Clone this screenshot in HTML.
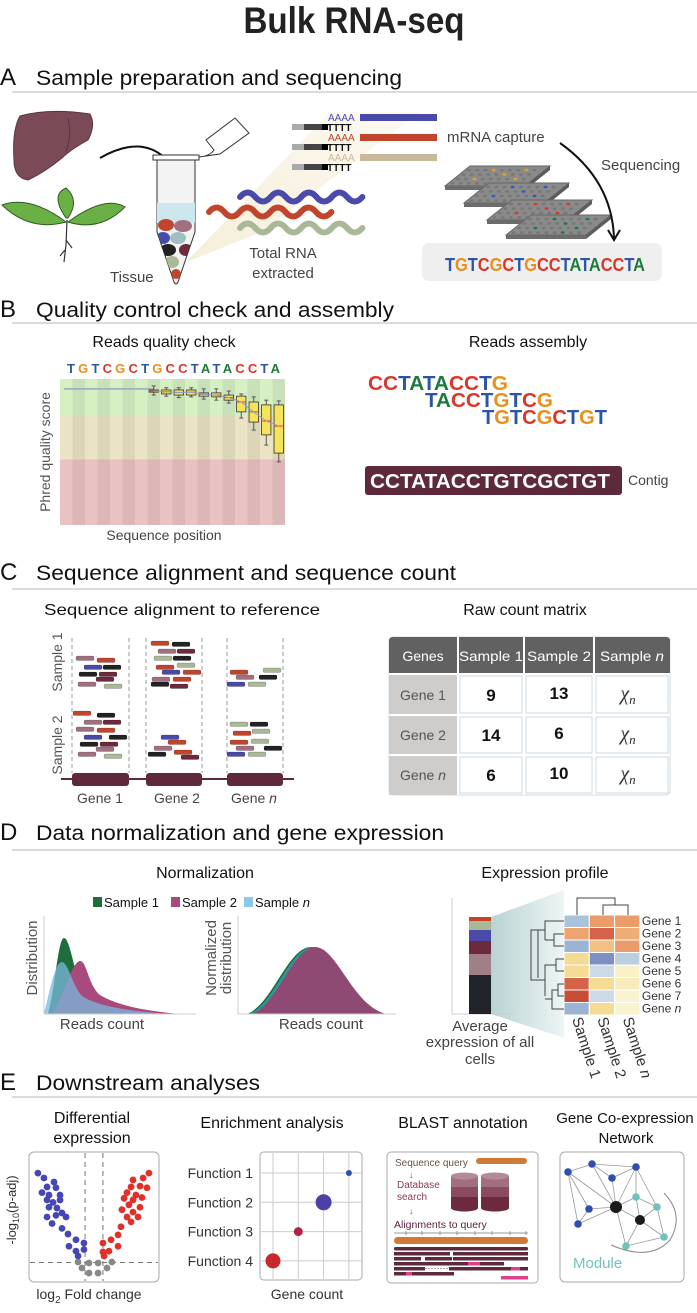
<!DOCTYPE html>
<html><head><meta charset="utf-8"><style>
html,body{margin:0;padding:0;background:#fff}
svg{display:block;font-family:"Liberation Sans",sans-serif}
</style></head><body>
<svg id="fig" width="697" height="1313" viewBox="0 0 697 1313" xmlns="http://www.w3.org/2000/svg">
<defs>
<linearGradient id="tealg" x1="0" x2="1" y1="0" y2="0"><stop offset="0" stop-color="#b9d3d3"/><stop offset="1" stop-color="#eef5f5"/></linearGradient>
<linearGradient id="beam" x1="0" x2="1" y1="1" y2="0"><stop offset="0" stop-color="#f3ead0"/><stop offset="1" stop-color="#fbf8ee"/></linearGradient>
<clipPath id="tubeclip"><path d="M157,160 L195,160 L195,232 L178,282 Q176,286 174,282 L157,232 Z"/></clipPath>
</defs>

<text x="354" y="33" text-anchor="middle" font-size="37" font-weight="bold" fill="#222" textLength="221" lengthAdjust="spacingAndGlyphs">Bulk RNA-seq</text>

<!-- ===== A ===== -->
<g>
<text x="0" y="85" font-size="24" fill="#111">A</text>
<text x="36" y="85" font-size="21" fill="#111" textLength="366" lengthAdjust="spacingAndGlyphs">Sample preparation and sequencing</text>
<line x1="12" y1="92" x2="697" y2="92" stroke="#cfcfcf" stroke-width="1.5"/>
<path d="M20,116 Q50,108 90,114 Q96,125 88,140 Q70,150 62,158 Q45,172 28,180 Q14,178 14,160 Q12,130 20,116 Z" fill="#7b4a57" stroke="#5a3440" stroke-width="1"/>
<path d="M68,118 Q72,135 66,152" stroke="#5a3440" fill="none"/>
<g>
<path d="M66,222 Q30,195 2,205 Q30,232 66,222 Z" fill="#6bb046" stroke="#2f5e22"/>
<path d="M68,222 Q105,195 125,207 Q100,232 68,222 Z" fill="#6bb046" stroke="#2f5e22"/>
<path d="M66,218 Q50,195 66,188 Q80,200 68,218 Z" fill="#6bb046" stroke="#2f5e22"/>
<path d="M67,220 L66,245 L64,262 M66,240 L72,248 M65,250 L60,256" stroke="#333" stroke-width="1.2" fill="none"/>
</g>
<path d="M100,158 Q140,135 165,158 Q176,170 176,178" stroke="#111" stroke-width="2" fill="none"/>
<path d="M171,172 L176,180 L180,171" stroke="#111" stroke-width="2" fill="none"/>
<polygon points="186,262 330,112 420,112 262,232" fill="url(#beam)" opacity="0.8"/>
<g>
<path d="M157,160 L195,160 L195,232 L178,282 Q176,286 174,282 L157,232 Z" fill="#f3f3f3" stroke="#333"/>
<g clip-path="url(#tubeclip)">
<rect x="150" y="203" width="50" height="20" fill="#cde7ee"/>
<ellipse cx="166" cy="225" rx="8" ry="6" fill="#c0452c"/><ellipse cx="183" cy="226" rx="9" ry="6" fill="#a07080"/>
<ellipse cx="163" cy="238" rx="7" ry="6" fill="#4a4aab"/><ellipse cx="178" cy="238" rx="8" ry="6" fill="#9fc0c0"/>
<ellipse cx="168" cy="250" rx="8" ry="6" fill="#222"/><ellipse cx="186" cy="250" rx="7" ry="6" fill="#6b2a3d"/>
<ellipse cx="172" cy="262" rx="7" ry="6" fill="#a9b896"/><ellipse cx="176" cy="274" rx="5" ry="5" fill="#c0452c"/>
</g>
<rect x="153" y="155" width="46" height="5" fill="#fff" stroke="#333"/>
<path d="M199,157 Q210,156 214,150 L206,140 L235,118 L249,133 L220,154 Z" fill="#fff" stroke="#333"/>
</g>
<text x="110" y="282" font-size="15" fill="#444">Tissue</text>
<g>
<rect x="360" y="114" width="77" height="7" fill="#4a4aab"/><rect x="360" y="134" width="77" height="7" fill="#c0452c"/><rect x="360" y="154" width="77" height="7" fill="#c9b99a"/>
<text x="328" y="121" font-size="10" fill="#4a4aab">AAAA</text><text x="328" y="141" font-size="10" fill="#c0452c">AAAA</text><text x="328" y="161" font-size="10" fill="#c9b99a">AAAA</text>
<g font-size="10" font-weight="bold" fill="#111"><text x="327" y="131">TTTT</text><text x="327" y="151">TTTT</text><text x="327" y="171">TTTT</text></g>
<rect x="292" y="124" width="12" height="6" fill="#aaa"/><rect x="304" y="124" width="18" height="6" fill="#444"/><rect x="322" y="124" width="6" height="6" fill="#000"/>
<rect x="292" y="144" width="12" height="6" fill="#aaa"/><rect x="304" y="144" width="18" height="6" fill="#444"/><rect x="322" y="144" width="6" height="6" fill="#000"/>
<rect x="292" y="164" width="12" height="6" fill="#aaa"/><rect x="304" y="164" width="18" height="6" fill="#444"/><rect x="322" y="164" width="6" height="6" fill="#000"/>
</g>
<g id="waves"></g>
<text x="283" y="258" text-anchor="middle" font-size="15" fill="#444">Total RNA</text>
<text x="283" y="278" text-anchor="middle" font-size="15" fill="#444">extracted</text>
<text x="447" y="142" font-size="15" fill="#444">mRNA capture</text>
<text x="601" y="170" font-size="15" fill="#444">Sequencing</text>
<g id="plates"></g>
<path d="M560,143 Q612,180 614,238" stroke="#111" stroke-width="2" fill="none"/>
<path d="M608,230 L614,240 L620,230" stroke="#111" stroke-width="2" fill="none"/>
<rect x="422" y="243" width="240" height="38" rx="7" fill="#efefef"/>
<text id="seqA" x="445" y="271" font-size="18" font-weight="bold" textLength="200" lengthAdjust="spacingAndGlyphs"></text>
</g>

<!-- ===== B ===== -->
<g>
<text x="0" y="317" font-size="24" fill="#111">B</text>
<text x="36" y="317" font-size="21" fill="#111" textLength="358" lengthAdjust="spacingAndGlyphs">Quality control check and assembly</text>
<line x1="12" y1="323" x2="697" y2="323" stroke="#cfcfcf" stroke-width="1.5"/>
<text x="164" y="347" text-anchor="middle" font-size="16" fill="#111">Reads quality check</text>
<text x="528" y="347" text-anchor="middle" font-size="16" fill="#111">Reads assembly</text>
<text id="seqB" x="67" y="373" font-size="13" font-weight="bold" textLength="213" lengthAdjust="spacing"></text>
<g id="qc"></g>
<text transform="translate(50,452) rotate(-90)" text-anchor="middle" font-size="14" fill="#555">Phred quality score</text>
<text x="164" y="540" text-anchor="middle" font-size="14" fill="#444">Sequence position</text>
<g font-weight="bold" font-size="20">
<text id="as1" x="368" y="390" textLength="140" lengthAdjust="spacingAndGlyphs"></text>
<text id="as2" x="425" y="407" textLength="128" lengthAdjust="spacingAndGlyphs"></text>
<text id="as3" x="482" y="424" textLength="125" lengthAdjust="spacingAndGlyphs"></text>
</g>
<rect x="365" y="466" width="257" height="29" rx="3" fill="#5e2a3b"/>
<text x="370" y="488" font-size="20" font-weight="bold" fill="#fff" textLength="240" lengthAdjust="spacingAndGlyphs">CCTATACCTGTCGCTGT</text>
<text x="628" y="485" font-size="14" fill="#444">Contig</text>
</g>

<!-- ===== C ===== -->
<g>
<text x="0" y="580" font-size="24" fill="#111">C</text>
<text x="36" y="580" font-size="21" fill="#111" textLength="420" lengthAdjust="spacingAndGlyphs">Sequence alignment and sequence count</text>
<line x1="12" y1="589" x2="697" y2="589" stroke="#cfcfcf" stroke-width="1.5"/>
<text x="44" y="615" font-size="16" fill="#111" textLength="276" lengthAdjust="spacingAndGlyphs">Sequence alignment to reference</text>
<text x="525" y="615" text-anchor="middle" font-size="16" fill="#111">Raw count matrix</text>
<g stroke="#999" stroke-dasharray="4,3" stroke-width="1">
<line x1="72" y1="638" x2="72" y2="773"/><line x1="129" y1="638" x2="129" y2="773"/>
<line x1="146" y1="638" x2="146" y2="773"/><line x1="202" y1="638" x2="202" y2="773"/>
<line x1="227" y1="638" x2="227" y2="773"/><line x1="283" y1="638" x2="283" y2="773"/>
</g>
<g id="reads"></g>
<line x1="61" y1="779" x2="294" y2="779" stroke="#5e2a3b" stroke-width="2"/>
<rect x="72" y="773" width="57" height="13" rx="3" fill="#5e2a3b"/>
<rect x="146" y="773" width="56" height="13" rx="3" fill="#5e2a3b"/>
<rect x="227" y="773" width="56" height="13" rx="3" fill="#5e2a3b"/>
<g font-size="14" fill="#444" text-anchor="middle">
<text x="100" y="803">Gene 1</text><text x="177" y="803">Gene 2</text><text x="254" y="803">Gene <tspan font-style="italic">n</tspan></text>
</g>
<text transform="translate(62,662) rotate(-90)" text-anchor="middle" font-size="14" fill="#555">Sample 1</text>
<text transform="translate(62,745) rotate(-90)" text-anchor="middle" font-size="14" fill="#555">Sample 2</text>
<g>
<rect x="389" y="637" width="281" height="158" rx="4" fill="#fff" stroke="#cdd8df"/>
<path d="M389,674 L389,641 Q389,637 393,637 L666,637 Q670,637 670,641 L670,674 Z" fill="#616161"/>
<rect x="389" y="674" width="69" height="121" fill="#cfcccc"/>
<g stroke="#fff" stroke-width="2"><line x1="458" y1="637" x2="458" y2="795"/><line x1="524" y1="637" x2="524" y2="795"/><line x1="594" y1="637" x2="594" y2="795"/><line x1="389" y1="674" x2="670" y2="674"/><line x1="389" y1="715" x2="670" y2="715"/><line x1="389" y1="755" x2="670" y2="755"/></g>
<g stroke="#cdd8df" fill="none"><rect x="460" y="676" width="62" height="37"/><rect x="526" y="676" width="66" height="37"/><rect x="596" y="676" width="72" height="37"/><rect x="460" y="717" width="62" height="36"/><rect x="526" y="717" width="66" height="36"/><rect x="596" y="717" width="72" height="36"/><rect x="460" y="757" width="62" height="36"/><rect x="526" y="757" width="66" height="36"/><rect x="596" y="757" width="72" height="36"/></g>
<g fill="#fff" font-size="14" text-anchor="middle"><text x="423" y="661">Genes</text><text x="491" y="661" textLength="64" lengthAdjust="spacingAndGlyphs">Sample 1</text><text x="559" y="661" textLength="64" lengthAdjust="spacingAndGlyphs">Sample 2</text><text x="632" y="661" textLength="64" lengthAdjust="spacingAndGlyphs">Sample <tspan font-style="italic">n</tspan></text></g>
<g fill="#555" font-size="14" text-anchor="middle"><text x="423" y="700">Gene 1</text><text x="423" y="740">Gene 2</text><text x="423" y="780">Gene <tspan font-style="italic">n</tspan></text></g>
<g fill="#111" font-size="17" font-weight="bold" text-anchor="middle"><text x="491" y="701">9</text><text x="559" y="699">13</text><text x="491" y="741">14</text><text x="559" y="739">6</text><text x="491" y="781">6</text><text x="559" y="779">10</text></g>
<g fill="#333" font-size="20" font-style="italic" font-family="Liberation Serif,serif" text-anchor="middle"><text x="628" y="700">χ<tspan font-size="13" dy="4">n</tspan></text><text x="628" y="740">χ<tspan font-size="13" dy="4">n</tspan></text><text x="628" y="780">χ<tspan font-size="13" dy="4">n</tspan></text></g>
</g>
</g>

<!-- ===== D ===== -->
<g>
<text x="0" y="840" font-size="24" fill="#111">D</text>
<text x="36" y="840" font-size="21" fill="#111" textLength="408" lengthAdjust="spacingAndGlyphs">Data normalization and gene expression</text>
<line x1="12" y1="850" x2="697" y2="850" stroke="#cfcfcf" stroke-width="1.5"/>
<text x="205" y="878" text-anchor="middle" font-size="16" fill="#111">Normalization</text>
<text x="545" y="878" text-anchor="middle" font-size="16" fill="#111">Expression profile</text>
<g font-size="13" fill="#111">
<rect x="93" y="897" width="9" height="10" fill="#1e6e3c"/><text x="104" y="907">Sample 1</text>
<rect x="171" y="897" width="9" height="10" fill="#a84a7c"/><text x="182" y="907">Sample 2</text>
<rect x="244" y="897" width="9" height="10" fill="#8ec8e8"/><text x="255" y="907">Sample <tspan font-style="italic">n</tspan></text>
</g>
<g>
<path d="M48,1014 C55,990 58,938 64,938 C70,938 74,972 82,990 C92,1005 110,1010 140,1013 L140,1014 Z" fill="#1e6e3c"/>
<path d="M52,1014 C62,1000 72,961 80,961 C87,961 88,985 100,995 C120,1007 150,1011 180,1014 Z" fill="#a84a7c"/>
<path d="M44,1014 C50,990 55,962 62,962 C68,962 72,985 82,996 C100,1008 140,1012 170,1014 Z" fill="#7ab8de" opacity="0.75"/>
<line x1="44" y1="916" x2="44" y2="1014" stroke="#ccc"/><line x1="44" y1="1014" x2="196" y2="1014" stroke="#ccc"/>
</g>
<g>
<path d="M247,1014 C272,1005 288,947 311,947 C334,947 350,1005 382,1014 Z" fill="#1e6e3c"/>
<path d="M249,1014 C274,1005 290,947 313,947 C336,947 352,1005 384,1014 Z" fill="#2a9a9a"/>
<path d="M252,1014 C277,1005 293,947 315,947 C337,947 352,1005 386,1014 Z" fill="#8e4a72"/>
<line x1="238" y1="916" x2="238" y2="1014" stroke="#ccc"/><line x1="238" y1="1014" x2="396" y2="1014" stroke="#ccc"/>
</g>
<text transform="translate(37,958) rotate(-90)" text-anchor="middle" font-size="15" fill="#555">Distribution</text>
<text transform="translate(216,958) rotate(-90)" text-anchor="middle" font-size="15" fill="#555">Normalized</text>
<text transform="translate(231,958) rotate(-90)" text-anchor="middle" font-size="15" fill="#555">distribution</text>
<text x="102" y="1029" text-anchor="middle" font-size="15" fill="#444">Reads count</text>
<text x="321" y="1029" text-anchor="middle" font-size="15" fill="#444">Reads count</text>
<polygon points="491,917 564,890 564,1038 491,1014" fill="url(#tealg)"/>
<line x1="452" y1="898" x2="452" y2="1014" stroke="#ccc"/><line x1="452" y1="1014" x2="513" y2="1014" stroke="#ccc"/>
<g id="stack"></g>
<g id="heat"></g>
<g stroke="#444" fill="none" stroke-width="1">
<path d="M577,915 L577,898 L615,898 L615,905 M603,915 L603,905 L628,905 L628,915"/>
<path d="M564,921 L545,921 L545,940 M564,934 L554,934 L554,946 L564,946 M554,940 L545,940 M545,930 L538,930 L538,978 M564,959 L556,959 L556,971 L564,971 M556,965 L545,965 L545,996 M564,984 L558,984 L558,996 L564,996 M558,990 L552,990 L552,1009 L564,1009 M552,999 L545,999 M545,980 L531,980 L531,930 L538,930"/>
</g>
<text x="480" y="1031" text-anchor="middle" font-size="15" fill="#444">Average</text>
<text x="480" y="1047" text-anchor="middle" font-size="15" fill="#444">expression of all</text>
<text x="480" y="1064" text-anchor="middle" font-size="15" fill="#444">cells</text>
</g>

<!-- ===== E ===== -->
<g>
<text x="0" y="1090" font-size="24" fill="#111">E</text>
<text x="36" y="1090" font-size="21" fill="#111" textLength="224" lengthAdjust="spacingAndGlyphs">Downstream analyses</text>
<line x1="12" y1="1097" x2="697" y2="1097" stroke="#cfcfcf" stroke-width="1.5"/>
<text x="92" y="1123" text-anchor="middle" font-size="16" fill="#111">Differential</text>
<text x="92" y="1143" text-anchor="middle" font-size="16" fill="#111">expression</text>
<rect x="29" y="1152" width="130" height="130" rx="5" fill="#fff" stroke="#aaa"/>
<g id="volcano"></g>
<text transform="translate(16,1210) rotate(-90)" text-anchor="middle" font-size="13" fill="#333">-log<tspan font-size="9" dy="3">10</tspan><tspan dy="-3">(p-adj)</tspan></text>
<text x="89" y="1299" text-anchor="middle" font-size="14" fill="#333">log<tspan font-size="10" dy="4">2</tspan><tspan dy="-4"> Fold change</tspan></text>
<text x="272" y="1128" text-anchor="middle" font-size="16" fill="#111">Enrichment analysis</text>
<rect x="260" y="1152" width="102" height="128" rx="4" fill="#fff" stroke="#aaa"/>
<g id="enrich"></g>
<text x="307" y="1299" text-anchor="middle" font-size="14" fill="#333">Gene count</text>
<text x="463" y="1128" text-anchor="middle" font-size="16" fill="#111">BLAST annotation</text>
<g>
<rect x="387" y="1152" width="151" height="131" rx="4" fill="#fff" stroke="#aaa"/>
<text x="395" y="1166" font-size="10" fill="#6b5040">Sequence query</text>
<rect x="476" y="1158" width="51" height="6" rx="3" fill="#d07a35"/>
<text x="409" y="1178" font-size="9" fill="#666">↓</text>
<text x="397" y="1188" font-size="10" fill="#8a3a5a">Database</text><text x="397" y="1200" font-size="10" fill="#8a3a5a">search</text>
<text x="409" y="1214" font-size="9" fill="#666">↓</text>
<g>
<rect x="451" y="1176" width="27" height="32" fill="#6b2a3d"/><rect x="451" y="1176" width="27" height="11" fill="#a07080"/><rect x="451" y="1187" width="27" height="10" fill="#8a4a60"/>
<ellipse cx="464.5" cy="1176" rx="13.5" ry="3.5" fill="#b58a98"/><ellipse cx="464.5" cy="1208" rx="13.5" ry="3.5" fill="#6b2a3d"/>
<rect x="481" y="1176" width="28" height="32" fill="#6b2a3d"/><rect x="481" y="1176" width="28" height="11" fill="#a07080"/><rect x="481" y="1187" width="28" height="10" fill="#8a4a60"/>
<ellipse cx="495" cy="1176" rx="14" ry="3.5" fill="#b58a98"/><ellipse cx="495" cy="1208" rx="14" ry="3.5" fill="#6b2a3d"/>
</g>
<text x="394" y="1228" font-size="10.5" fill="#5e2040">Alignments to query</text>
<line x1="394" y1="1233" x2="528" y2="1233" stroke="#999"/>
<g stroke="#999"><line x1="406" y1="1231" x2="406" y2="1235"/><line x1="422" y1="1231" x2="422" y2="1235"/><line x1="440" y1="1231" x2="440" y2="1235"/><line x1="457" y1="1231" x2="457" y2="1235"/><line x1="475" y1="1231" x2="475" y2="1235"/><line x1="492" y1="1231" x2="492" y2="1235"/><line x1="510" y1="1231" x2="510" y2="1235"/><line x1="526" y1="1231" x2="526" y2="1235"/></g>
<rect x="394" y="1237" width="134" height="7" rx="3.5" fill="#d07a35"/>
<g fill="#5e2a3b"><rect x="394" y="1247" width="134" height="3.5" rx="1.5"/><rect x="394" y="1252" width="56" height="3.5"/><rect x="453" y="1252" width="75" height="3.5"/><rect x="394" y="1257" width="27" height="3.5"/><rect x="425" y="1257" width="27" height="3.5"/><rect x="453" y="1257" width="75" height="3.5"/><rect x="394" y="1262" width="110" height="3.5"/><rect x="394" y="1267" width="31" height="3.5"/><rect x="449" y="1267" width="79" height="3.5"/><rect x="394" y="1272" width="60" height="3.5"/></g>
<g fill="#e0408a"><rect x="468" y="1262" width="12" height="3.5"/><rect x="511" y="1267" width="9" height="3.5"/><rect x="406" y="1272" width="6" height="3.5"/><rect x="501" y="1276" width="27" height="3.5"/></g>
<line x1="425" y1="1268.5" x2="449" y2="1268.5" stroke="#aaa" stroke-dasharray="2,1"/>
</g>
<text x="625" y="1123" text-anchor="middle" font-size="15" fill="#111">Gene Co-expression</text>
<text x="626" y="1143" text-anchor="middle" font-size="15" fill="#111">Network</text>
<rect x="560" y="1152" width="124" height="130" rx="5" fill="#fff" stroke="#aaa"/>
<g id="net"></g>
<path d="M664,1193 Q685,1215 670,1240 Q650,1262 611,1245" stroke="#888" fill="none"/>
<text x="573" y="1268" font-size="15" fill="#6fc3bd">Module</text>
</g>
</svg>

<script>
// ---------- data ----------
var seqRead = "TGTCGCTGCCTATACCTA";
var baseColors = {T:"#2b55a8", G:"#e8901c", C:"#d9372a", A:"#1e7a3c"};
var qcSeq = "TGTCGCTGCCTATACCTA";
var asm1 = "CCTATACCTG", asm2 = "TACCTGTCG", asm3 = "TGTCGCTGT";
// boxplot (Phred scores) for the later positions
var qcWhiskerLow = [35.6,35.3,34.9,35.1,34.5,34.2,33.4,29.3,26.0,21.9,17.3];
var qcQ1 = [36.4,35.9,35.6,35.6,35.3,35.1,34.2,31.0,28.2,24.7,19.7];
var qcMedian = [36.7,36.5,36.3,36.4,35.8,35.6,34.9,33.7,31.0,28.5,27.1];
var qcQ3 = [37.0,37.0,37.0,37.0,36.2,36.2,35.6,35.3,33.7,32.9,32.9];
var qcWhiskerHigh = [38.1,37.6,37.6,37.6,37.3,37.3,36.7,35.9,35.1,34.2,34.0];
var qcFlatScore = 37.3;
// average expression stack (shares from top)
var stackShares = [4,9,11,13,21,39];
var stackColors = ["#c0452c","#a9b896","#4a4aab","#6b2a3d","#a07f86","#202428"];
// heatmap
var heatGenes = ["Gene 1","Gene 2","Gene 3","Gene 4","Gene 5","Gene 6","Gene 7","Gene n"];
var heatSamples = ["Sample 1","Sample 2","Sample n"];
var heatS1 = [-1.0, 1.1,-1.3, 0.5, 0.5, 2.0, 2.3,-1.3];
var heatS2 = [ 1.2, 2.0, 0.8,-2.0,-0.6, 0.5,-0.6, 0.5];
var heatSn = [ 1.2, 1.0, 1.2,-0.8, 0.1, 0.2, 0.05,0.05];
// volcano
var upFC = [3.38,3.02,2.4,2.83,2.28,3.26,2.03,2.58,2.95,1.85,2.4,2.15,2.83,1.72,2.4,2.03,2.71,2.28,1.66,1.48,1.05,0.55,1.48,0.92,0.55,0.62];
var upP  = [6.7,6.4,6.28,5.9,5.85,5.8,5.5,5.35,5.2,5.15,5.05,4.75,4.6,4.45,4.3,4.0,4.0,3.7,3.4,2.9,2.6,2.4,2.2,1.9,1.85,1.6];
var downFC = [-3.45,-3.08,-2.46,-2.89,-2.34,-3.2,-2.77,-2.09,-2.89,-2.52,-2.09,-2.77,-2.28,-1.97,-2.89,-2.34,-1.72,-2.58,-1.97,-1.6,-1.11,-0.62,-1.54,-1.11,-0.62,-0.98];
var downP  = [6.7,6.4,6.15,5.85,5.8,5.5,5.35,5.35,5.05,4.9,5.05,4.6,4.55,4.25,4.0,4.1,4.0,3.6,3.3,2.95,2.6,2.4,2.2,1.9,2.0,1.6];
var nsFC = [-0.98,-0.31,0.25,1.1,-0.74,-0.31,0.25,0.8];
var nsP  = [1.23,1.17,1.17,1.23,0.86,0.55,0.55,0.86];
var fcThreshold = 0.55, pThreshold = 1.2;
// enrichment
var functions = ["Function 1","Function 2","Function 3","Function 4"];
var geneCounts = [4,3,2,1];
var enrichSize = [9,64,20,56];
var enrichColors = ["#3050b0","#4b3fa8","#b02545","#c8282a"];

var NS = "http://www.w3.org/2000/svg";
function mk(tag, attrs, parent){var e=document.createElementNS(NS,tag);for(var k in attrs)e.setAttribute(k,attrs[k]);(parent||document.getElementById("fig")).appendChild(e);return e;}

function fillSeq(id, s){var t=document.getElementById(id);for(var i=0;i<s.length;i++){var ts=mk("tspan",{fill:baseColors[s[i]]},t);ts.textContent=s[i];}}
fillSeq("seqA",seqRead);fillSeq("seqB",qcSeq);fillSeq("as1",asm1);fillSeq("as2",asm2);fillSeq("as3",asm3);

(function(){var g=document.getElementById("waves");
[[240,197,"#4a4aab"],[209,212,"#c0452c"],[240,228,"#a9b896"]].forEach(function(w){
 var d="M"+w[0]+","+w[1];for(var i=0;i<8;i++){var x=w[0]+i*15.3;d+=" Q"+(x+7.6)+","+(w[1]+(i%2?9:-9))+" "+(x+15.3)+","+w[1];}
 var p=mk("path",{d:d,stroke:w[2],"stroke-width":6,fill:"none","stroke-linecap":"round"},g);
 
 
});})();

(function(){var g=document.getElementById("plates");
var pl=[[445,166,"#e8a020"],[464,183,"#3358b8"],[487,200,"#d9372a"],[506,215,"#1e7a3c"]];
pl.forEach(function(p){var x=p[0],y=p[1];
 mk("polygon",{points:(x+25)+","+(y)+" "+(x+105)+","+y+" "+(x+80)+","+(y+20)+" "+x+","+(y+20),fill:"#8a8a8a",stroke:"#666"},g);
 mk("polygon",{points:x+","+(y+20)+" "+(x+80)+","+(y+20)+" "+(x+80)+","+(y+24)+" "+x+","+(y+24),fill:"#6c6c6c"},g);
 mk("polygon",{points:(x+80)+","+(y+20)+" "+(x+105)+","+y+" "+(x+105)+","+(y+4)+" "+(x+80)+","+(y+24),fill:"#5c5c5c"},g);
 for(var r=0;r<4;r++)for(var c=0;c<9;c++){var cx=x+24+c*8.2-r*5.5,cy=y+4+r*4.5;
  mk("ellipse",{cx:cx,cy:cy,rx:2,ry:1.3,fill:((r*9+c)%11==3||(r*9+c)%13==7)?p[2]:"#777"},g);}
});})();

(function(){var g=document.getElementById("qc");
var x0=60,x1=285,yT=379,yB=525;
function ys(s){return yB-s*(yB-yT)/40;}
mk("rect",{x:x0,y:ys(40),width:x1-x0,height:ys(30)-ys(40),fill:"#d6f0c4"},g);
mk("rect",{x:x0,y:ys(30),width:x1-x0,height:ys(18)-ys(30),fill:"#ebe3c4"},g);
mk("rect",{x:x0,y:ys(18),width:x1-x0,height:yB-ys(18),fill:"#e9c3c3"},g);
var n=qcSeq.length,w=(x1-x0)/n;
for(var i=0;i<n;i+=2){mk("rect",{x:x0+w*(i+1),y:yT,width:w,height:yB-yT,fill:"#000",opacity:0.06},g);}
var nb=qcMedian.length,first=n-nb;
function xc(i){return x0+w*(first+i)+w/2;}
mk("line",{x1:x0+4,y1:ys(qcFlatScore),x2:xc(0),y2:ys(qcFlatScore),stroke:"#9aa6b8","stroke-width":1.5},g);
var d="M"+xc(0)+","+ys(qcMedian[0]);for(var i=1;i<nb;i++)d+=" L"+xc(i)+","+ys(qcMedian[i]);
for(var i=0;i<nb;i++){var cx=xc(i),bw=w*0.75;
 mk("line",{x1:cx,y1:ys(qcWhiskerLow[i]),x2:cx,y2:ys(qcWhiskerHigh[i]),stroke:"#555"},g);
 mk("line",{x1:cx-2,y1:ys(qcWhiskerLow[i]),x2:cx+2,y2:ys(qcWhiskerLow[i]),stroke:"#555"},g);
 mk("line",{x1:cx-2,y1:ys(qcWhiskerHigh[i]),x2:cx+2,y2:ys(qcWhiskerHigh[i]),stroke:"#555"},g);
 var b=mk("rect",{x:cx-bw/2,y:ys(qcQ3[i]),width:bw,height:ys(qcQ1[i])-ys(qcQ3[i]),fill:"#f5e35a",stroke:"#333","stroke-width":0.8},g);
 
 
 mk("line",{x1:cx-bw/2,y1:ys(qcMedian[i]),x2:cx+bw/2,y2:ys(qcMedian[i]),stroke:"#e0402a","stroke-width":1},g);
}
mk("path",{d:d,stroke:"#8fa0c0",fill:"none","stroke-width":1},g);
})();

(function(){var g=document.getElementById("reads");
var cols={r:"#c0452c",k:"#222",m:"#a07080",w:"#6b2a3d",b:"#4a4aab",s:"#a9b896"};
var R=[[76,656,"m"],[97,658,"r"],[84,665,"b"],[103,665,"k"],[79,672,"k"],[99,672,"w"],[96,677,"w"],[78,682,"m"],[104,684,"s"],
[151,641,"r"],[172,642,"k"],[158,649,"m"],[177,649,"w"],[154,656,"s"],[173,656,"k"],[177,663,"s"],[156,665,"r"],[162,670,"b"],[183,670,"r"],[152,677,"m"],[173,677,"r"],[151,682,"k"],[170,684,"w"],
[230,670,"r"],[263,668,"s"],[236,675,"m"],[259,675,"k"],[227,682,"b"],[248,682,"s"],
[73,711,"r"],[97,713,"k"],[84,720,"m"],[103,720,"w"],[76,727,"m"],[97,728,"r"],[84,735,"b"],[109,735,"k"],[80,742,"k"],[100,742,"w"],[96,747,"m"],[78,752,"m"],[104,754,"s"],
[161,735,"b"],[168,740,"r"],[154,746,"m"],[174,750,"r"],[148,752,"k"],[181,755,"w"],
[230,722,"s"],[250,722,"k"],[233,731,"r"],[252,729,"s"],[230,740,"r"],[251,739,"s"],[236,746,"m"],[264,746,"k"],[227,752,"b"],[248,752,"s"]];
R.forEach(function(r){var e=mk("rect",{x:r[0],y:r[1],width:18,height:4.5,rx:1.5,fill:cols[r[2]],stroke:"rgba(0,0,0,0.3)","stroke-width":0.5},g);
 
 });
})();

(function(){var g=document.getElementById("stack");var top=917,bot=1014,tot=0;stackShares.forEach(function(v){tot+=v;});
var y=top;for(var i=0;i<stackShares.length;i++){var h=stackShares[i]/tot*(bot-top);
 var e=mk("rect",{x:469,y:y,width:22,height:h,fill:stackColors[i]},g);
 
 
 y+=h;}})();

(function(){var g=document.getElementById("heat");
var cols=[heatS1,heatS2,heatSn];var x0=564,cw=25.3,y0=915,rh=12.5;
function hx(a){return [parseInt(a.substr(1,2),16),parseInt(a.substr(3,2),16),parseInt(a.substr(5,2),16)];}
function lerp(a,b,t){var pa=hx(a),pb=hx(b);return "rgb("+pa.map(function(v,i){return Math.round(v+(pb[i]-v)*t);}).join(",")+")";}
function color(v){var stops=[[-2.2,"#7386c0"],[-1,"#aac3da"],[-0.5,"#d4e0ec"],[0,"#fbf6d5"],[0.5,"#f5dc95"],[1.1,"#eda46e"],[2,"#d5634a"],[2.4,"#c4432f"]];
 if(v<=stops[0][0])return stops[0][1];for(var i=1;i<stops.length;i++){if(v<=stops[i][0]){return lerp(stops[i-1][1],stops[i][1],(v-stops[i-1][0])/(stops[i][0]-stops[i-1][0]));}}return stops[stops.length-1][1];}
for(var c=0;c<3;c++)for(var r=0;r<heatGenes.length;r++){
 var e=mk("rect",{x:x0+c*cw,y:y0+r*rh,width:cw,height:rh,fill:color(cols[c][r]),stroke:"#fff","stroke-width":1},g);
 
 }
for(var r=0;r<heatGenes.length;r++){var t=mk("text",{x:x0+3*cw+2,y:y0+r*rh+10,"font-size":12,fill:"#333"},g);
 
 
 if(heatGenes[r]==="Gene n"){t.textContent="Gene ";var it=mk("tspan",{"font-style":"italic"},t);it.textContent="n";}else t.textContent=heatGenes[r];}
for(var c=0;c<3;c++){var t=mk("text",{transform:"translate("+(x0+c*cw+8)+",1019) rotate(72)","font-size":15,fill:"#333"},g);
 
 
 if(c===2){t.textContent="Sample ";var it=mk("tspan",{"font-style":"italic"},t);it.textContent="n";}else t.textContent=heatSamples[c];}
})();

(function(){var g=document.getElementById("volcano");
function xs(fc){return 94+fc*16.25;} function ys(p){return 1282-p*16.25;}
mk("line",{x1:xs(-fcThreshold),y1:1153,x2:xs(-fcThreshold),y2:1281,stroke:"#777","stroke-dasharray":"5,4"},g);
mk("line",{x1:xs(fcThreshold),y1:1153,x2:xs(fcThreshold),y2:1281,stroke:"#777","stroke-dasharray":"5,4"},g);
mk("line",{x1:30,y1:ys(pThreshold),x2:158,y2:ys(pThreshold),stroke:"#777","stroke-dasharray":"5,4"},g);
function pts(F,P,col,name){for(var i=0;i<F.length;i++){var c=mk("circle",{cx:xs(F[i]),cy:ys(P[i]),r:3.4,fill:col},g);
 
 }}
pts(nsFC,nsP,"#888","non-significant-point");pts(downFC,downP,"#4646b4","downregulated-point");pts(upFC,upP,"#e0302a","upregulated-point");
})();

(function(){var g=document.getElementById("enrich");
function xs(v){return 273+(v-1)*25.3;} function ys(i){return 1173+i*29.3;}
for(var v=1;v<=4;v++)mk("line",{x1:xs(v),y1:1153,x2:xs(v),y2:1279,stroke:"#ccc"},g);
for(var i=0;i<functions.length;i++){mk("line",{x1:261,y1:ys(i),x2:361,y2:ys(i),stroke:"#ccc"},g);
 var t=mk("text",{x:253,y:ys(i)+5,"text-anchor":"end","font-size":14,fill:"#333"},g);t.textContent=functions[i];
 
 }
for(var i=0;i<functions.length;i++){var c=mk("circle",{cx:xs(geneCounts[i]),cy:ys(i),r:Math.sqrt(enrichSize[i]),fill:enrichColors[i]},g);
 
 }
})();

(function(){var g=document.getElementById("net");
var N=[[568,1172,"b"],[592,1164,"b"],[612,1178,"b"],[636,1167,"b"],[589,1209,"b"],[578,1224,"b"],[616,1207,"k"],[640,1220,"k"],[636,1197,"t"],[657,1207,"t"],[664,1237,"t"],[626,1246,"t"]];
var E=[[0,1],[0,4],[0,5],[0,6],[1,2],[1,3],[1,6],[2,3],[2,6],[3,6],[3,8],[4,6],[5,6],[4,5],[6,7],[6,8],[7,8],[7,9],[7,10],[7,11],[8,9],[9,10],[6,11],[10,11],[3,9]];
E.forEach(function(e){mk("line",{x1:N[e[0]][0],y1:N[e[0]][1],x2:N[e[1]][0],y2:N[e[1]][1],stroke:"#999","stroke-width":0.8},g);});
var col={b:"#2f4fb0",k:"#1a1a1a",t:"#6fc3bd"};
N.forEach(function(n){var c=mk("circle",{cx:n[0],cy:n[1],r:n[2]=="k"?(n[0]==616?6:5):3.8,fill:col[n[2]]},g);
 
 });
})();
</script>
</body></html>
